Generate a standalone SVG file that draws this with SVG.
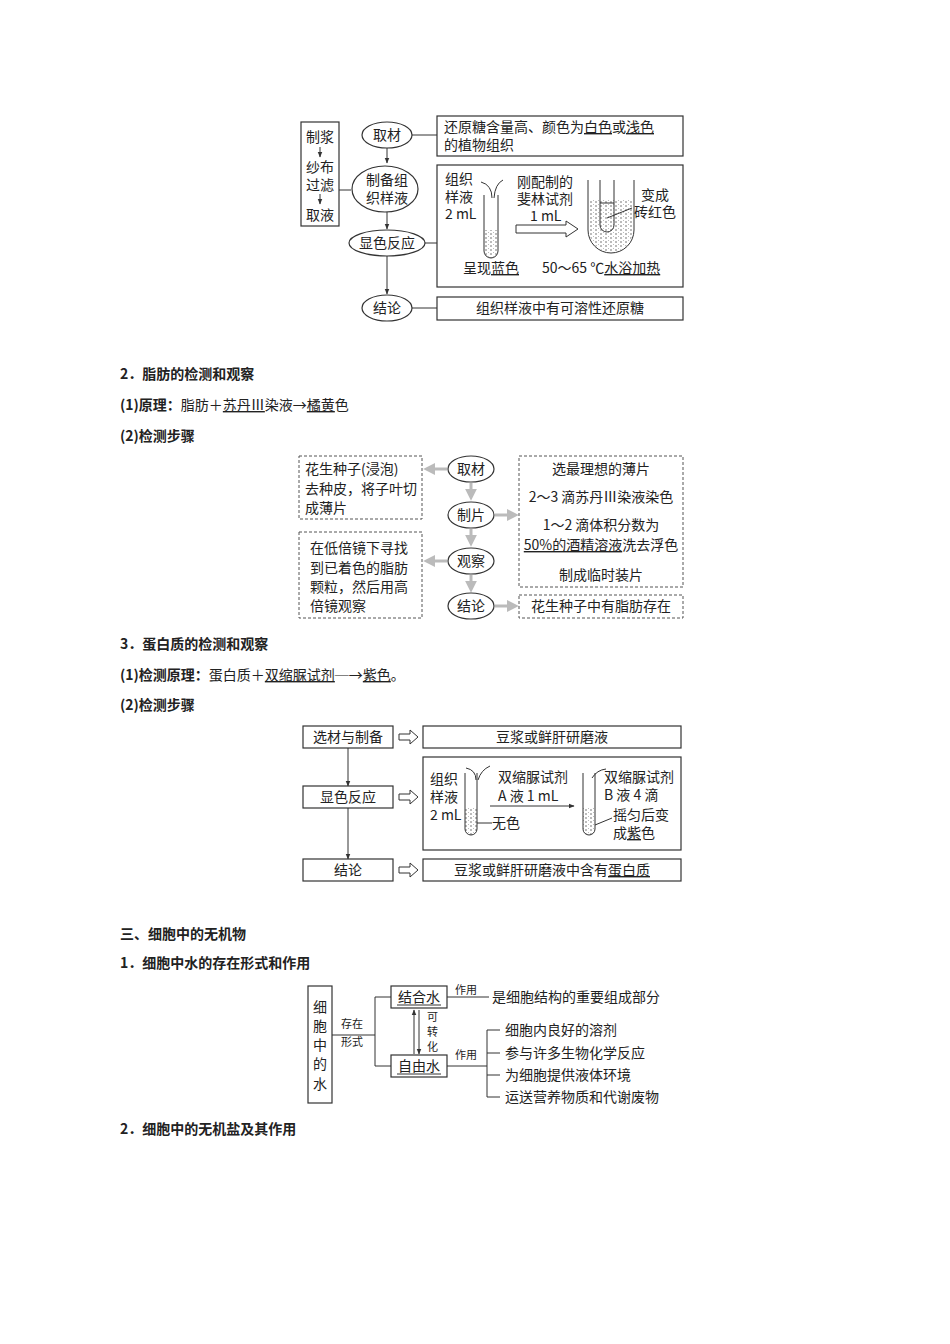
<svg xmlns="http://www.w3.org/2000/svg" width="950" height="1344" viewBox="0 0 950 1344">
<defs>
<style>
text{font-family:"Noto Sans CJK SC","Liberation Serif",serif;font-size:14px;fill:#222}
.b{font-weight:bold}
.c{text-anchor:middle}
.s{font-size:11px}
.ln{stroke:#333;stroke-width:1;fill:none}
.bx{stroke:#333;stroke-width:1.2;fill:#fff}
.dx{stroke:#555;stroke-width:1;fill:#fff;stroke-dasharray:3 2}
.ga{stroke:#bbb;stroke-width:3;fill:none}
.ho{stroke:#333;stroke-width:1;fill:#fff}
</style>
<marker id="a" viewBox="0 0 10 10" refX="9" refY="5" markerWidth="6" markerHeight="6" orient="auto"><path d="M0,1 L10,5 L0,9 z" fill="#333"/></marker>
<marker id="g" viewBox="0 0 10 10" refX="6" refY="5" markerWidth="4" markerHeight="4" orient="auto"><path d="M0,0 L10,5 L0,10 z" fill="#bbb"/></marker>
<pattern id="dots" width="5" height="4" patternUnits="userSpaceOnUse"><rect width="5" height="4" fill="#fff"/><path d="M0,2h2M3,0h1" stroke="#555" stroke-width="0.8"/></pattern>
</defs>
<rect width="950" height="1344" fill="#fff"/>

<!-- Section 1 -->
<g id="conn1">
<line class="ln" x1="387" y1="148" x2="387" y2="163" marker-end="url(#a)"/>
<line class="ln" x1="387" y1="212" x2="387" y2="229" marker-end="url(#a)"/>
<line class="ln" x1="387" y1="256" x2="387" y2="294" marker-end="url(#a)"/>
<line class="ln" x1="339" y1="190" x2="351" y2="190"/>
<line class="ln" x1="412" y1="135" x2="437" y2="135"/>
<line class="ln" x1="425" y1="243" x2="437" y2="243"/>
<line class="ln" x1="412" y1="308" x2="437" y2="308"/>
</g>
<g id="prep"><rect class="bx" x="301" y="122" width="38" height="104"/>
<text class="c" x="320" y="142">制浆</text>
<line class="ln" x1="320" y1="147" x2="320" y2="157" marker-end="url(#a)"/>
<text class="c" x="320" y="172">纱布</text><text class="c" x="320" y="190">过滤</text>
<line class="ln" x1="320" y1="194" x2="320" y2="204" marker-end="url(#a)"/>
<text class="c" x="320" y="220">取液</text></g>
<g id="e1"><ellipse class="bx" cx="387" cy="135" rx="25" ry="13"/><text class="c" x="387" y="140">取材</text></g>
<g id="e2"><ellipse class="bx" cx="385" cy="189" rx="33" ry="23"/><text class="c" x="387" y="185">制备组</text><text class="c" x="387" y="203">织样液</text></g>
<g id="e3"><ellipse class="bx" cx="387" cy="243" rx="38" ry="13"/><text class="c" x="387" y="248">显色反应</text></g>
<g id="e4"><ellipse class="bx" cx="387" cy="308" rx="25" ry="13"/><text class="c" x="387" y="313">结论</text></g>
<g id="b1"><rect class="bx" x="437" y="116" width="246" height="40"/>
<text x="444" y="132">还原糖含量高、颜色为<tspan text-decoration="underline">白色</tspan>或<tspan text-decoration="underline">浅色</tspan></text>
<text x="444" y="150">的植物组织</text></g>
<g id="b2"><rect class="bx" x="437" y="165" width="246" height="122"/>
<text x="445" y="184">组织</text><text x="445" y="202">样液</text><text x="445" y="219">2 mL</text>
<path class="ln" d="M481,182 Q492,185 492,198"/><path class="ln" d="M503,180 Q495,184 494,198"/>
<path d="M484,230 V251 a7,7 0 0 0 14,0 V230 z" fill="url(#dots)"/>
<path class="ln" d="M484,195 V251 a7,7 0 0 0 14,0 V195"/>
<text x="517" y="187">刚配制的</text><text x="517" y="204">斐林试剂</text><text x="530" y="221">1 mL</text>
<path class="ln" d="M516,225 h50 v-4 l12,8 l-12,8 v-4 h-50 z"/>
<path class="ln" d="M588,180 V230 a23,23 0 0 0 46,0 V180"/>
<path d="M589,200 H633 V230 a22,22 0 0 1 -44,0 z" fill="url(#dots)"/>
<path d="M600,203 V225 a7,7 0 0 0 14,0 V203 z" fill="url(#dots)" stroke="#333"/>
<line class="ln" x1="600" y1="180" x2="600" y2="203"/><line class="ln" x1="614" y1="180" x2="614" y2="203"/>
<line class="ln" x1="607" y1="218" x2="632" y2="208"/>
<text x="641" y="200">变成</text><text x="634" y="217">砖红色</text>
<text x="463" y="273">呈现<tspan text-decoration="underline">蓝色</tspan></text>
<text x="542" y="273">50～65 ℃<tspan text-decoration="underline">水浴加热</tspan></text></g>
<g id="b3"><rect class="bx" x="437" y="297" width="246" height="23"/><text class="c" x="560" y="313">组织样液中有可溶性还原糖</text></g>

<!-- Section 2 -->
<text class="b" x="120" y="379">2．脂肪的检测和观察</text>
<text class="b" x="120" y="410">(1)原理：<tspan font-weight="normal">脂肪＋<tspan text-decoration="underline">苏丹Ⅲ</tspan>染液→<tspan text-decoration="underline">橘黄</tspan>色</tspan></text>
<text class="b" x="120" y="441">(2)检测步骤</text>
<g id="conn2">
<line class="ga" x1="471" y1="483" x2="471" y2="496" marker-end="url(#g)"/>
<line class="ga" x1="471" y1="529" x2="471" y2="542" marker-end="url(#g)"/>
<line class="ga" x1="471" y1="575" x2="471" y2="588" marker-end="url(#g)"/>
<line class="ga" x1="447" y1="469" x2="428" y2="469" marker-end="url(#g)"/>
<line class="ga" x1="447" y1="561" x2="428" y2="561" marker-end="url(#g)"/>
<line class="ga" x1="495" y1="515" x2="514" y2="515" marker-end="url(#g)"/>
<line class="ga" x1="495" y1="606" x2="514" y2="606" marker-end="url(#g)"/>
<line class="ga" x1="601" y1="480" x2="601" y2="487" marker-end="url(#g)"/>
<line class="ga" x1="601" y1="507" x2="601" y2="514" marker-end="url(#g)"/>
<line class="ga" x1="601" y1="557" x2="601" y2="564" marker-end="url(#g)"/>
</g>
<g id="f1"><rect class="dx" x="299" y="456" width="123" height="63"/>
<text x="305" y="474">花生种子(浸泡)</text><text x="305" y="494">去种皮，将子叶切</text><text x="305" y="513">成薄片</text></g>
<g id="f2"><rect class="dx" x="299" y="532" width="123" height="86"/>
<text x="310" y="553">在低倍镜下寻找</text><text x="310" y="573">到已着色的脂肪</text><text x="310" y="592">颗粒，然后用高</text><text x="310" y="611">倍镜观察</text></g>
<g id="fe1"><ellipse class="bx" cx="471" cy="469" rx="23" ry="13"/><text class="c" x="471" y="474">取材</text></g>
<g id="fe2"><ellipse class="bx" cx="471" cy="515" rx="23" ry="13"/><text class="c" x="471" y="520">制片</text></g>
<g id="fe3"><ellipse class="bx" cx="471" cy="561" rx="23" ry="13"/><text class="c" x="471" y="566">观察</text></g>
<g id="fe4"><ellipse class="bx" cx="471" cy="606" rx="23" ry="13"/><text class="c" x="471" y="611">结论</text></g>
<g id="f3"><rect class="dx" x="519" y="456" width="164" height="131"/>
<text class="c" x="601" y="474">选最理想的薄片</text>
<text class="c" x="601" y="502">2～3 滴苏丹Ⅲ染液染色</text>
<text class="c" x="601" y="530">1～2 滴体积分数为</text>
<text class="c" x="601" y="550"><tspan text-decoration="underline">50%的酒精溶液</tspan>洗去浮色</text>
<text class="c" x="601" y="580">制成临时装片</text></g>
<g id="f4"><rect class="dx" x="519" y="595" width="164" height="23"/><text class="c" x="601" y="611">花生种子中有脂肪存在</text></g>

<!-- Section 3 -->
<text class="b" x="120" y="649">3．蛋白质的检测和观察</text>
<text class="b" x="120" y="680">(1)检测原理：<tspan font-weight="normal">蛋白质＋<tspan text-decoration="underline">双缩脲试剂</tspan>─→<tspan text-decoration="underline">紫色</tspan>。</tspan></text>
<text class="b" x="120" y="710">(2)检测步骤</text>
<g id="conn3">
<line class="ln" x1="348" y1="748" x2="348" y2="786" marker-end="url(#a)"/>
<line class="ln" x1="348" y1="808" x2="348" y2="859" marker-end="url(#a)"/>
<path class="ho" d="M399,734 h11 v-4 l8,7 l-8,7 v-4 h-11 z"/>
<path class="ho" d="M399,794 h11 v-4 l8,7 l-8,7 v-4 h-11 z"/>
<path class="ho" d="M399,867 h11 v-4 l8,7 l-8,7 v-4 h-11 z"/>
</g>
<g id="p1"><rect class="bx" x="303" y="726" width="90" height="22"/><text class="c" x="348" y="742">选材与制备</text></g>
<g id="p2"><rect class="bx" x="303" y="786" width="90" height="22"/><text class="c" x="348" y="802">显色反应</text></g>
<g id="p3"><rect class="bx" x="303" y="859" width="90" height="22"/><text class="c" x="348" y="875">结论</text></g>
<g id="q1"><rect class="bx" x="423" y="726" width="258" height="22"/><text class="c" x="552" y="742">豆浆或鲜肝研磨液</text></g>
<g id="q2"><rect class="bx" x="423" y="757" width="258" height="93"/>
<text x="430" y="784">组织</text><text x="430" y="802">样液</text><text x="430" y="820">2 mL</text>
<path class="ln" d="M466,768 Q476,770 476,780"/><path class="ln" d="M490,766 Q481,770 478,780"/>
<path d="M465,807 V829 a6,6 0 0 0 12,0 V807 z" fill="url(#dots)"/>
<path class="ln" d="M465,773 V829 a6,6 0 0 0 12,0 V773"/>
<line class="ln" x1="477" y1="823" x2="492" y2="823"/><text x="492" y="828">无色</text>
<text x="498" y="782">双缩脲试剂</text><text x="498" y="801">A 液 1 mL</text>
<line class="ln" x1="490" y1="806" x2="574" y2="806" marker-end="url(#a)"/>
<path class="ln" d="M592,778 Q597,770 606,769"/>
<path d="M583,807 V829 a6,6 0 0 0 12,0 V807 z" fill="url(#dots)"/>
<path class="ln" d="M583,773 V829 a6,6 0 0 0 12,0 V773"/>
<line class="ln" x1="595" y1="825" x2="612" y2="818"/>
<text x="604" y="782">双缩脲试剂</text><text x="604" y="800">B 液 4 滴</text>
<text x="613" y="820">摇匀后变</text><text x="613" y="838">成<tspan text-decoration="underline">紫</tspan>色</text></g>
<g id="q3"><rect class="bx" x="423" y="859" width="258" height="22"/><text class="c" x="552" y="875">豆浆或鲜肝研磨液中含有<tspan text-decoration="underline">蛋白质</tspan></text></g>

<!-- Section 三 -->
<text class="b" x="120" y="939">三、细胞中的无机物</text>
<text class="b" x="120" y="968">1．细胞中水的存在形式和作用</text>
<g id="conn4">
<line class="ln" x1="332" y1="1035" x2="375" y2="1035"/>
<path class="ln" d="M391,997 H375 V1066 H391"/>
<line class="ln" x1="414" y1="1054" x2="414" y2="1010" marker-end="url(#a)"/>
<line class="ln" x1="419" y1="1010" x2="419" y2="1054" marker-end="url(#a)"/>
<line class="ln" x1="447" y1="997" x2="489" y2="997"/>
<line class="ln" x1="447" y1="1066" x2="487" y2="1066"/>
<path class="ln" d="M500,1030 H487 V1097 H500 M487,1053 H500 M487,1075 H500"/>
</g>
<g id="w0"><rect class="bx" x="308" y="986" width="24" height="117"/>
<text class="c" x="320" y="1012">细</text><text class="c" x="320" y="1031">胞</text><text class="c" x="320" y="1050">中</text><text class="c" x="320" y="1069">的</text><text class="c" x="320" y="1089">水</text></g>
<text class="s" x="341" y="1028">存在</text><text class="s" x="341" y="1046">形式</text>
<g id="w1"><rect class="bx" x="391" y="986" width="56" height="22"/><text class="c" x="419" y="1002">结合水</text>
<line class="ln" x1="397" y1="1005" x2="441" y2="1005"/></g>
<g id="w2"><rect class="bx" x="391" y="1055" width="56" height="22"/><text class="c" x="419" y="1071">自由水</text>
<line class="ln" x1="397" y1="1074" x2="441" y2="1074"/></g>
<text class="s" x="427" y="1021">可</text><text class="s" x="427" y="1036">转</text><text class="s" x="427" y="1051">化</text>
<text class="s" x="455" y="994">作用</text><text class="s" x="455" y="1059">作用</text>
<text x="492" y="1002">是细胞结构的重要组成部分</text>
<text x="505" y="1035">细胞内良好的溶剂</text>
<text x="505" y="1058">参与许多生物化学反应</text>
<text x="505" y="1080">为细胞提供液体环境</text>
<text x="505" y="1102">运送营养物质和代谢废物</text>
<text class="b" x="120" y="1134">2．细胞中的无机盐及其作用</text>
</svg>
